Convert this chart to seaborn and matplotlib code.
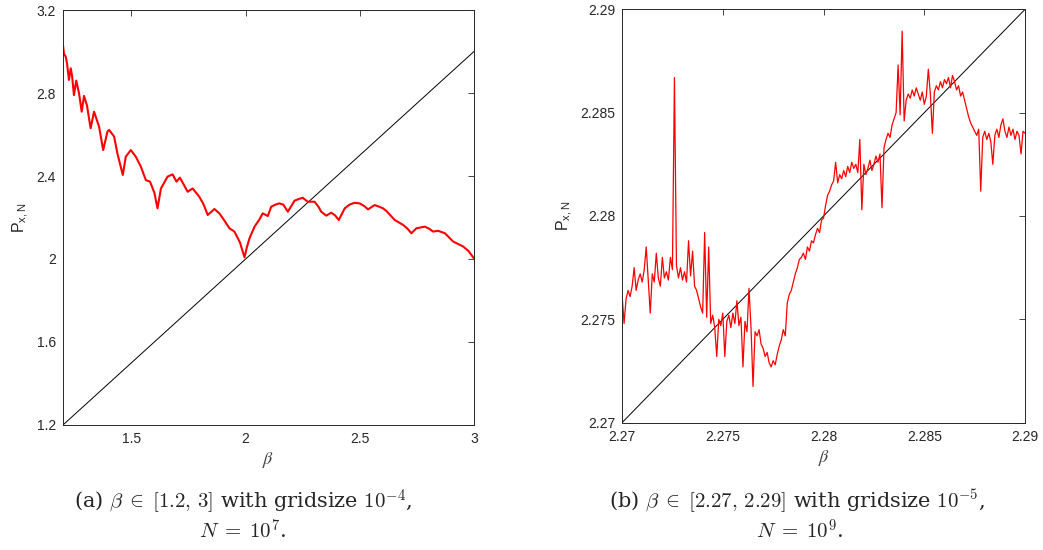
# %%
import matplotlib
matplotlib.use('Agg')
import matplotlib.pyplot as plt
from matplotlib.ticker import FormatStrFormatter
import seaborn as sns

# %%
# painel (a): beta em [1.2, 3]
beta_a = [1.200, 1.204, 1.212, 1.218, 1.226, 1.234, 1.240, 1.248, 1.258, 1.270,
          1.282, 1.292, 1.305, 1.321, 1.336, 1.358, 1.376, 1.395, 1.402, 1.424,
          1.438, 1.462, 1.475, 1.497, 1.519, 1.541, 1.563, 1.581, 1.600, 1.614,
          1.629, 1.658, 1.680, 1.697, 1.712, 1.746, 1.768, 1.797, 1.815, 1.834,
          1.863, 1.885, 1.910, 1.929, 1.951, 1.975, 1.995, 2.005, 2.017, 2.039,
          2.060, 2.075, 2.097, 2.112, 2.130, 2.148, 2.165, 2.185, 2.200, 2.214,
          2.235, 2.250, 2.272, 2.302, 2.320, 2.331, 2.353, 2.375, 2.392, 2.408,
          2.434, 2.455, 2.477, 2.499, 2.520, 2.536, 2.565, 2.585, 2.602, 2.617,
          2.653, 2.690, 2.710, 2.726, 2.748, 2.785, 2.805, 2.821, 2.843, 2.873,
          2.909, 2.935, 2.953, 2.975, 2.994, 3.000]
p_a = [3.031, 2.990, 2.975, 2.940, 2.863, 2.919, 2.880, 2.790, 2.860, 2.800,
       2.710, 2.786, 2.740, 2.630, 2.710, 2.638, 2.525, 2.615, 2.622, 2.590,
       2.510, 2.405, 2.493, 2.525, 2.493, 2.445, 2.380, 2.373, 2.320, 2.244,
       2.340, 2.397, 2.408, 2.373, 2.392, 2.324, 2.340, 2.300, 2.265, 2.212,
       2.241, 2.220, 2.180, 2.148, 2.132, 2.080, 2.008, 2.055, 2.100, 2.156,
       2.190, 2.220, 2.207, 2.252, 2.262, 2.268, 2.262, 2.228, 2.255, 2.281,
       2.290, 2.295, 2.276, 2.276, 2.250, 2.228, 2.209, 2.223, 2.210, 2.188,
       2.244, 2.262, 2.271, 2.268, 2.255, 2.239, 2.260, 2.252, 2.244, 2.231,
       2.188, 2.164, 2.145, 2.124, 2.148, 2.156, 2.145, 2.132, 2.136, 2.124,
       2.084, 2.070, 2.060, 2.040, 2.012, 2.003]
diag_a = [1.2, 3.0]

# painel (b): beta em [2.27, 2.29], passo 1e-4
beta_b = [round(2.27 + i * 0.0001, 4) for i in range(201)]
p_b = [2.27620, 2.27480, 2.27600, 2.27640, 2.27610, 2.27660, 2.27750, 2.27640, 2.27690, 2.27720,
       2.27680, 2.27740, 2.27850, 2.27690, 2.27530, 2.27720, 2.27680, 2.27820, 2.27700, 2.27660,
       2.27800, 2.27700, 2.27730, 2.27690, 2.27800, 2.27740, 2.28670, 2.27760, 2.27700, 2.27750,
       2.27690, 2.27730, 2.27680, 2.27880, 2.27710, 2.27830, 2.27660, 2.27640, 2.27600, 2.27560,
       2.27530, 2.27920, 2.27510, 2.27850, 2.27480, 2.27520, 2.27460, 2.27320, 2.27500, 2.27470,
       2.27530, 2.27320, 2.27490, 2.27520, 2.27460, 2.27530, 2.27480, 2.27590, 2.27470, 2.27510,
       2.27270, 2.27490, 2.27440, 2.27650, 2.27460, 2.27175, 2.27440, 2.27420, 2.27450, 2.27380,
       2.27360, 2.27320, 2.27340, 2.27290, 2.27270, 2.27300, 2.27280, 2.27330, 2.27370, 2.27400,
       2.27450, 2.27420, 2.27580, 2.27620, 2.27640, 2.27680, 2.27720, 2.27750, 2.27790, 2.27800,
       2.27820, 2.27790, 2.27850, 2.27830, 2.27880, 2.27870, 2.27910, 2.27940, 2.27920, 2.27980,
       2.27990, 2.28050, 2.28100, 2.28120, 2.28150, 2.28170, 2.28260, 2.28160, 2.28200, 2.28180,
       2.28220, 2.28190, 2.28240, 2.28210, 2.28260, 2.28230, 2.28250, 2.28210, 2.28370, 2.28030,
       2.28250, 2.28200, 2.28230, 2.28270, 2.28220, 2.28250, 2.28290, 2.28260, 2.28300, 2.28040,
       2.28330, 2.28370, 2.28400, 2.28380, 2.28440, 2.28470, 2.28500, 2.28730, 2.28490, 2.28894,
       2.28460, 2.28560, 2.28590, 2.28570, 2.28610, 2.28580, 2.28620, 2.28590, 2.28560, 2.28600,
       2.28540, 2.28580, 2.28710, 2.28590, 2.28400, 2.28600, 2.28630, 2.28610, 2.28650, 2.28620,
       2.28660, 2.28640, 2.28670, 2.28620, 2.28680, 2.28650, 2.28610, 2.28630, 2.28580, 2.28600,
       2.28560, 2.28520, 2.28480, 2.28450, 2.28430, 2.28410, 2.28390, 2.28420, 2.28120, 2.28380,
       2.28410, 2.28370, 2.28400, 2.28360, 2.28250, 2.28390, 2.28420, 2.28380, 2.28440, 2.28470,
       2.28410, 2.28380, 2.28430, 2.28390, 2.28420, 2.28370, 2.28410, 2.28390, 2.28300, 2.28410,
       2.28400]
diag_b = [2.27, 2.29]

xticks_a = [1.5, 2, 2.5, 3]
yticks_a = [1.2, 1.6, 2, 2.4, 2.8, 3.2]
ticks_b = [2.27, 2.275, 2.28, 2.285, 2.29]

# %%
sns.set_style('white')
plt.rcParams['font.family'] = ['Liberation Sans', 'DejaVu Sans']
plt.rcParams['mathtext.fontset'] = 'custom'
plt.rcParams['mathtext.rm'] = 'Liberation Sans'
plt.rcParams['mathtext.it'] = 'Liberation Sans:italic'

fig = plt.figure(figsize=(10.43, 5.5), dpi=100)
ax1 = fig.add_axes([0.0604, 0.2273, 0.394, 0.7545])
ax2 = fig.add_axes([0.5964, 0.2315, 0.3864, 0.7516])

sns.lineplot(x=diag_a, y=diag_a, ax=ax1, color='black', linewidth=0.7, estimator=None)
sns.lineplot(x=beta_a, y=p_a, ax=ax1, color='red', linewidth=1.5, estimator=None)
sns.lineplot(x=diag_b, y=diag_b, ax=ax2, color='black', linewidth=0.7, estimator=None)
sns.lineplot(x=beta_b, y=p_b, ax=ax2, color='red', linewidth=0.9, estimator=None)

ax1.set_xlim(1.2, 3)
ax1.set_ylim(1.2, 3.2)
ax1.set_xticks(xticks_a)
ax1.set_yticks(yticks_a)
ax2.set_xlim(2.27, 2.29)
ax2.set_ylim(2.27, 2.29)
ax2.set_xticks(ticks_b)
ax2.set_yticks(ticks_b)

for ax in (ax1, ax2):
    ax.xaxis.set_major_formatter(FormatStrFormatter('%g'))
    ax.yaxis.set_major_formatter(FormatStrFormatter('%g'))
    ax.tick_params(direction='in', length=4, width=0.6, top=True, right=True,
                   labelsize=10, labelcolor='#262626', color='#262626', pad=5)
    for s in ax.spines.values():
        s.set_color('#262626')
        s.set_linewidth(0.7)
    ax.set_xlabel(r'$\beta$', fontsize=13, color='#404040', math_fontfamily='stix', labelpad=3)
    ax.set_ylabel(r'P$_{\mathrm{x,N}}$', fontsize=11.5, color='#262626', labelpad=4)

# legendas dos paineis
cap = dict(ha='center', va='center', fontsize=15, family='DejaVu Serif', math_fontfamily='cm')
fig.text(243 / 1043, 1 - 502 / 550, r'(a) $\beta \;\in\; [1.2,\, 3]$ with gridsize $10^{-4}$,', **cap)
fig.text(243 / 1043, 1 - 531 / 550, r'$N\; =\; 10^{7}$.', **cap)
fig.text(797 / 1043, 1 - 502 / 550, r'(b) $\beta \;\in\; [2.27,\, 2.29]$ with gridsize $10^{-5}$,', **cap)
fig.text(800 / 1043, 1 - 531 / 550, r'$N\; =\; 10^{9}$.', **cap)

fig.savefig('out.png', dpi=100)
